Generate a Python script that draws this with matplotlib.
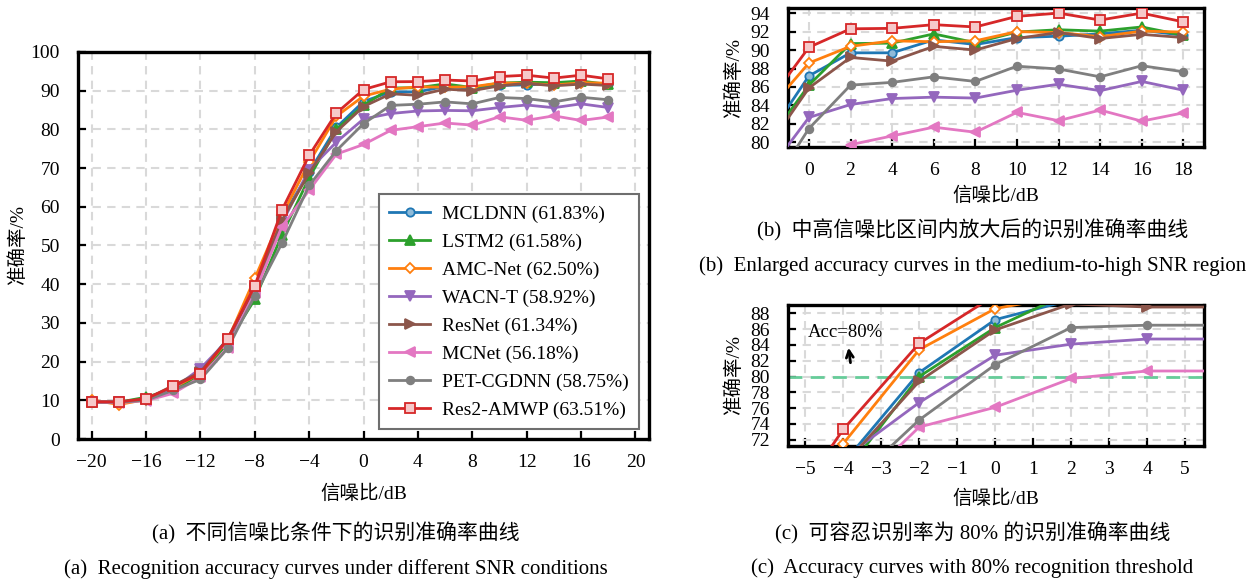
import matplotlib
matplotlib.use("Agg")
import matplotlib.pyplot as plt

plt.rcParams['font.family'] = ['Liberation Serif', 'Noto Sans CJK SC']
plt.rcParams['axes.unicode_minus'] = True

# SNR points (dB) shared by all curves
snr = [-20, -18, -16, -14, -12, -10, -8, -6, -4, -2, 0, 2, 4, 6, 8, 10, 12, 14, 16, 18]

# Recognition accuracy (%) per model
acc_mcldnn = [9.6, 9.5, 10.3, 13.4, 17.2, 25.9, 39.6, 57.1, 69.0, 80.5, 87.2,
              89.7, 89.7, 91.1, 90.6, 91.35, 91.5, 91.75, 92.15, 91.6]
acc_lstm2 = [9.6, 9.5, 10.8, 12.9, 16.2, 24.8, 36.1, 52.8, 67.5, 80.0, 86.2,
             90.7, 90.75, 91.75, 90.8, 91.95, 92.2, 92.05, 92.5, 91.6]
acc_amcnet = [10.1, 8.9, 10.2, 13.2, 17.0, 25.5, 41.5, 57.8, 71.5, 83.4, 88.6,
              90.4, 91.0, 90.9, 91.0, 92.0, 91.9, 91.45, 92.05, 91.95]
acc_wacnt = [9.6, 9.5, 10.2, 13.0, 18.2, 25.5, 38.8, 55.8, 69.6, 76.7, 82.7,
             84.1, 84.75, 84.9, 84.8, 85.65, 86.3, 85.6, 86.6, 85.65]
acc_resnet = [9.6, 9.5, 10.3, 13.8, 17.3, 25.8, 39.0, 56.5, 68.7, 79.4, 85.9,
              89.2, 88.8, 90.4, 90.0, 91.25, 91.9, 91.25, 91.7, 91.35]
acc_mcnet = [9.6, 9.4, 9.9, 11.8, 16.0, 23.6, 37.8, 54.9, 64.3, 73.6, 76.1,
             79.75, 80.7, 81.65, 81.1, 83.25, 82.35, 83.5, 82.3, 83.2]
acc_petcgdnn = [9.6, 9.5, 10.0, 12.6, 15.4, 23.4, 37.0, 50.6, 65.5, 74.5, 81.5,
                86.2, 86.5, 87.1, 86.6, 88.25, 87.95, 87.1, 88.3, 87.65]
acc_res2amwp = [9.6, 9.6, 10.4, 13.6, 16.9, 25.8, 39.6, 59.2, 73.3, 84.2, 90.3,
                92.3, 92.35, 92.75, 92.5, 93.65, 94.0, 93.25, 94.0, 93.05]

labels = ['MCLDNN (61.83%)', 'LSTM2 (61.58%)', 'AMC-Net (62.50%)', 'WACN-T (58.92%)',
          'ResNet (61.34%)', 'MCNet (56.18%)', 'PET-CGDNN (58.75%)', 'Res2-AMWP (63.51%)']
series = [acc_mcldnn, acc_lstm2, acc_amcnet, acc_wacnt,
          acc_resnet, acc_mcnet, acc_petcgdnn, acc_res2amwp]
colors = ['#1f77b4', '#2ca02c', '#ff7f0e', '#9467bd',
          '#8c564b', '#e377c2', '#7f7f7f', '#d62728']
markers = ['o', '^', 'D', 'v', '>', '<', 'o', 's']
faces = ['#8fbbd9', None, 'white', None, None, None, None, '#f6c9ca']
msizes = [6, 6.5, 5.5, 6.5, 6.5, 6.5, 5.5, 6.5]

threshold = 80
last_snr_c = 4  # panel (c) holds the curves flat after this SNR

fig = plt.figure(figsize=(12.53, 5.82), dpi=100)
ax_a = fig.add_axes([0.0623, 0.2457, 0.4557, 0.665])
ax_b = fig.add_axes([0.629, 0.7474, 0.332, 0.238])
ax_c = fig.add_axes([0.629, 0.2337, 0.332, 0.2428])

FS = 14


def draw_curves(ax, upto=None, x_end=None):
    for y, lab, c, m, fc, ms in zip(series, labels, colors, markers, faces, msizes):
        xs, ys = list(snr), list(y)
        mark = None
        if upto is not None:
            keep = [i for i, x in enumerate(snr) if x <= upto]
            xs = [snr[i] for i in keep] + [x_end]
            ys = [y[i] for i in keep] + [y[keep[-1]]]
            mark = list(range(len(keep)))
        ax.plot(xs, ys, color=c, lw=2, marker=m, markersize=ms,
                markerfacecolor=fc if fc else c, markeredgecolor=c,
                markeredgewidth=1.3, markevery=mark, label=lab, zorder=3)


def style_axes(ax):
    ax.grid(True, color='#d9d9d9', lw=1.5, ls=(0, (4, 3)), zorder=0)
    for sp in ax.spines.values():
        sp.set_linewidth(2.4)
    ax.tick_params(axis='both', direction='in', length=6, width=1.6,
                   labelsize=FS, top=False, right=False)
    ax.tick_params(axis='x', pad=10.5)
    ax.tick_params(axis='y', pad=13)


def set_labels(ax, xy_x, xy_y):
    ax.set_xlabel('信噪比/dB', fontsize=FS)
    ax.set_ylabel('准确率/%', fontsize=FS)
    ax.xaxis.set_label_coords(0.5, xy_x)
    ax.xaxis.label.set_va('center')
    ax.yaxis.set_label_coords(xy_y, 0.5)
    ax.yaxis.label.set_va('center')


# (a) full SNR range
draw_curves(ax_a)
style_axes(ax_a)
ax_a.set_xlim(-21, 21)
ax_a.set_ylim(0, 100)
ax_a.set_xticks(range(-20, 21, 4))
ax_a.set_yticks(range(0, 101, 10))
set_labels(ax_a, -0.142, -0.105)
leg = ax_a.legend(loc='lower right', fontsize=FS, frameon=True, fancybox=False,
                  handlelength=2.1, handletextpad=0.6, labelspacing=0.53,
                  borderpad=0.55, borderaxespad=0.5)
leg.get_frame().set_edgecolor('#6e6e6e')
leg.get_frame().set_linewidth(1.5)
leg.get_frame().set_alpha(1)

# (b) zoomed medium-to-high SNR region
draw_curves(ax_b)
style_axes(ax_b)
ax_b.set_xlim(-1, 19)
ax_b.set_ylim(79.5, 94.5)
ax_b.set_xticks(range(0, 19, 2))
ax_b.set_yticks(range(80, 95, 2))
set_labels(ax_b, -0.354, -0.132)

# (c) 80% threshold
c_xlim = (-5.45, 5.5)
draw_curves(ax_c, upto=last_snr_c, x_end=c_xlim[1] + 0.5)
style_axes(ax_c)
ax_c.axhline(threshold, color='#66cc99', lw=2, ls=(0, (5, 3)), zorder=2)
ax_c.set_xlim(*c_xlim)
ax_c.set_ylim(71.2, 89.1)
ax_c.set_xticks(range(-5, 6))
ax_c.set_yticks(range(72, 89, 2))
set_labels(ax_c, -0.375, -0.132)
ax_c.text(-3.94, 85.6, 'Acc=80%', fontsize=13.5, ha='center', va='center')
ax_c.annotate('', xy=(-3.87, 84.0), xytext=(-3.8, 81.4),
              arrowprops=dict(arrowstyle='->,head_length=0.5,head_width=0.25', lw=2, color='black'))

# captions
cap_fs = 15
fig.text(0.268, 1 - 533 / 582, '(a)  不同信噪比条件下的识别准确率曲线', ha='center', va='center', fontsize=cap_fs)
fig.text(0.268, 1 - 569 / 582, '(a)  Recognition accuracy curves under different SNR conditions',
         ha='center', va='center', fontsize=cap_fs)
fig.text(0.776, 1 - 230 / 582, '(b)  中高信噪比区间内放大后的识别准确率曲线', ha='center', va='center', fontsize=cap_fs)
fig.text(0.776, 1 - 266 / 582, '(b)  Enlarged accuracy curves in the medium-to-high SNR region',
         ha='center', va='center', fontsize=cap_fs)
fig.text(0.776, 1 - 533 / 582, '(c)  可容忍识别率为 80% 的识别准确率曲线', ha='center', va='center', fontsize=cap_fs)
fig.text(0.776, 1 - 568 / 582, '(c)  Accuracy curves with 80% recognition threshold',
         ha='center', va='center', fontsize=cap_fs)

fig.savefig('out.png', dpi=100)
